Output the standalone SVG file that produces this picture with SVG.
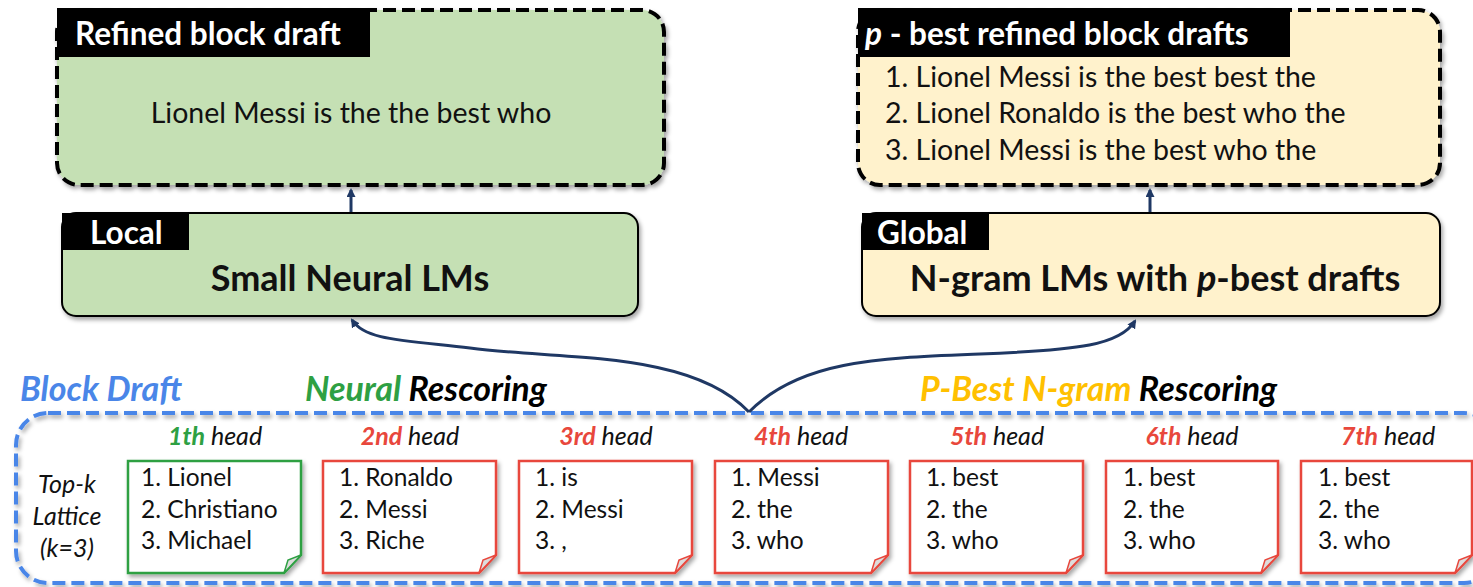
<svg xmlns="http://www.w3.org/2000/svg" width="1473" height="587" viewBox="0 0 1473 587">
<defs>
<filter id="sh" x="-5%" y="-5%" width="110%" height="115%"><feDropShadow dx="2" dy="3" stdDeviation="2" flood-color="#000" flood-opacity="0.35"/></filter>
<marker id="ah" markerWidth="9" markerHeight="9" refX="7" refY="4.5" orient="auto" markerUnits="userSpaceOnUse"><path d="M0,0 L9,4.5 L0,9 z" fill="#1f3864"/></marker>
</defs>
<style>
text{font-family:Lato,"Open Sans","Liberation Sans",sans-serif;}
.dash{stroke:#000;stroke-width:4;stroke-dasharray:13 6;}
.solid{stroke:#000;stroke-width:2;}
.lab{fill:#000;}
.labt{fill:#fff;font-weight:bold;font-size:31.5px;}
.body{font-size:28.5px;fill:#111;}
.big{font-size:36px;font-weight:bold;fill:#111;}
.card{fill:#fff;stroke-width:2.5;}
.cw{font-size:24.5px;fill:#111;}
.head{font-size:25px;font-style:italic;fill:#111;}
.hn{font-weight:bold;}
.sec{font-size:34px;font-style:italic;font-weight:bold;}
.conn{fill:none;stroke:#1f3864;stroke-width:3;}
</style>

<g id="refined">
<rect x="57" y="10" width="607" height="175" rx="22" fill="#c5e0b4" class="dash" filter="url(#sh)"/>
<rect x="57" y="8" width="313" height="49" class="lab"/>
<text x="75" y="45" class="labt">Refined block draft</text>
<text x="351" y="123" class="body" text-anchor="middle">Lionel Messi is the the best who</text>
</g>

<g id="pbest">
<rect x="858" y="10" width="582" height="175" rx="22" fill="#fff2cc" class="dash" filter="url(#sh)"/>
<rect x="858" y="8" width="432" height="49" class="lab"/>
<text x="865" y="45" class="labt"><tspan font-style="italic">p</tspan> - best refined block drafts</text>
<text x="885" y="87" class="body">1. Lionel Messi is the best best the</text>
<text x="885" y="123" class="body">2. Lionel Ronaldo is the best who the</text>
<text x="885" y="160" class="body">3. Lionel Messi is the best who the</text>
</g>

<g id="local">
<rect x="62" y="213" width="576" height="103" rx="14" fill="#c5e0b4" class="solid" filter="url(#sh)"/>
<path d="M62,213 H189 V250 H62 Z" class="lab"/>
<text x="90" y="244" class="labt">Local</text>
<text x="350" y="291" class="big" text-anchor="middle">Small Neural LMs</text>
</g>

<g id="global">
<rect x="862" y="213" width="578" height="103" rx="14" fill="#fff2cc" class="solid" filter="url(#sh)"/>
<path d="M862,213 H989 V250 H862 Z" class="lab"/>
<text x="877" y="244" class="labt">Global</text>
<text x="1155" y="291" class="big" text-anchor="middle">N-gram LMs with <tspan font-style="italic">p</tspan>-best drafts</text>
</g>

<g id="blockdraft">
<rect x="16" y="413" width="1480" height="170" rx="32" fill="none" stroke="#4a86e8" stroke-width="4" stroke-dasharray="13 6" filter="url(#sh)"/>
<text x="20" y="401" class="sec" fill="#4a86e8">Block Draft</text>
<text x="305" y="401" class="sec"><tspan fill="#2ea043">Neural</tspan> <tspan fill="#000">Rescoring</tspan></text>
<text x="920" y="401" class="sec"><tspan fill="#ffc000">P-Best N-gram</tspan> <tspan fill="#000">Rescoring</tspan></text>
<text x="67" y="493" class="head" text-anchor="middle">Top-k</text>
<text x="67" y="525" class="head" text-anchor="middle">Lattice</text>
<text x="67" y="557" class="head" text-anchor="middle">(k=3)</text>
</g>

<g id="head1">
<text x="215" y="445" class="head" text-anchor="middle"><tspan class="hn" fill="#2ea043">1th</tspan> head</text>
<path d="M128,461 H301 V555 L284,573 H128 Z" class="card" stroke="#2ea043" filter="url(#sh)"/>
<path d="M284,573 L288,560 L301,555 Z" fill="#ddd" stroke="#2ea043" stroke-width="1.5"/>
<text x="141" y="486" class="cw">1. Lionel</text>
<text x="141" y="518" class="cw">2. Christiano</text>
<text x="141" y="549" class="cw">3. Michael</text>
</g>

<g id="head2">
<text x="410" y="445" class="head" text-anchor="middle"><tspan class="hn" fill="#e8473c">2nd</tspan> head</text>
<path d="M323,461 H496 V555 L479,573 H323 Z" class="card" stroke="#e8473c" filter="url(#sh)"/>
<path d="M479,573 L483,560 L496,555 Z" fill="#ddd" stroke="#e8473c" stroke-width="1.5"/>
<text x="339" y="486" class="cw">1. Ronaldo</text>
<text x="339" y="518" class="cw">2. Messi</text>
<text x="339" y="549" class="cw">3. Riche</text>
</g>

<g id="head3">
<text x="606" y="445" class="head" text-anchor="middle"><tspan class="hn" fill="#e8473c">3rd</tspan> head</text>
<path d="M519,461 H692 V555 L675,573 H519 Z" class="card" stroke="#e8473c" filter="url(#sh)"/>
<path d="M675,573 L679,560 L692,555 Z" fill="#ddd" stroke="#e8473c" stroke-width="1.5"/>
<text x="535" y="486" class="cw">1. is</text>
<text x="535" y="518" class="cw">2. Messi</text>
<text x="535" y="549" class="cw">3. ,</text>
</g>

<g id="head4">
<text x="801" y="445" class="head" text-anchor="middle"><tspan class="hn" fill="#e8473c">4th</tspan> head</text>
<path d="M715,461 H888 V555 L871,573 H715 Z" class="card" stroke="#e8473c" filter="url(#sh)"/>
<path d="M871,573 L875,560 L888,555 Z" fill="#ddd" stroke="#e8473c" stroke-width="1.5"/>
<text x="731" y="486" class="cw">1. Messi</text>
<text x="731" y="518" class="cw">2. the</text>
<text x="731" y="549" class="cw">3. who</text>
</g>

<g id="head5">
<text x="997" y="445" class="head" text-anchor="middle"><tspan class="hn" fill="#e8473c">5th</tspan> head</text>
<path d="M910,461 H1083 V555 L1066,573 H910 Z" class="card" stroke="#e8473c" filter="url(#sh)"/>
<path d="M1066,573 L1070,560 L1083,555 Z" fill="#ddd" stroke="#e8473c" stroke-width="1.5"/>
<text x="926" y="486" class="cw">1. best</text>
<text x="926" y="518" class="cw">2. the</text>
<text x="926" y="549" class="cw">3. who</text>
</g>

<g id="head6">
<text x="1192" y="445" class="head" text-anchor="middle"><tspan class="hn" fill="#e8473c">6th</tspan> head</text>
<path d="M1106,461 H1278 V555 L1261,573 H1106 Z" class="card" stroke="#e8473c" filter="url(#sh)"/>
<path d="M1261,573 L1265,560 L1278,555 Z" fill="#ddd" stroke="#e8473c" stroke-width="1.5"/>
<text x="1123" y="486" class="cw">1. best</text>
<text x="1123" y="518" class="cw">2. the</text>
<text x="1123" y="549" class="cw">3. who</text>
</g>

<g id="head7">
<text x="1388" y="445" class="head" text-anchor="middle"><tspan class="hn" fill="#e8473c">7th</tspan> head</text>
<path d="M1301,461 H1472 V555 L1455,573 H1301 Z" class="card" stroke="#e8473c" filter="url(#sh)"/>
<path d="M1455,573 L1459,560 L1472,555 Z" fill="#ddd" stroke="#e8473c" stroke-width="1.5"/>
<text x="1318" y="486" class="cw">1. best</text>
<text x="1318" y="518" class="cw">2. the</text>
<text x="1318" y="549" class="cw">3. who</text>
</g>

<g id="connectors">
<path d="M351,212 V190" class="conn" marker-end="url(#ah)"/>
<path d="M1150,212 V190" class="conn" marker-end="url(#ah)"/>
<path d="M749,412 C690,350 560,360 470,348 C400,340 365,340 352,320" class="conn" marker-end="url(#ah)"/>
<path d="M749,412 C800,360 880,358 980,354 C1080,350 1120,345 1135,321" class="conn" marker-end="url(#ah)"/>
</g>
</svg>
